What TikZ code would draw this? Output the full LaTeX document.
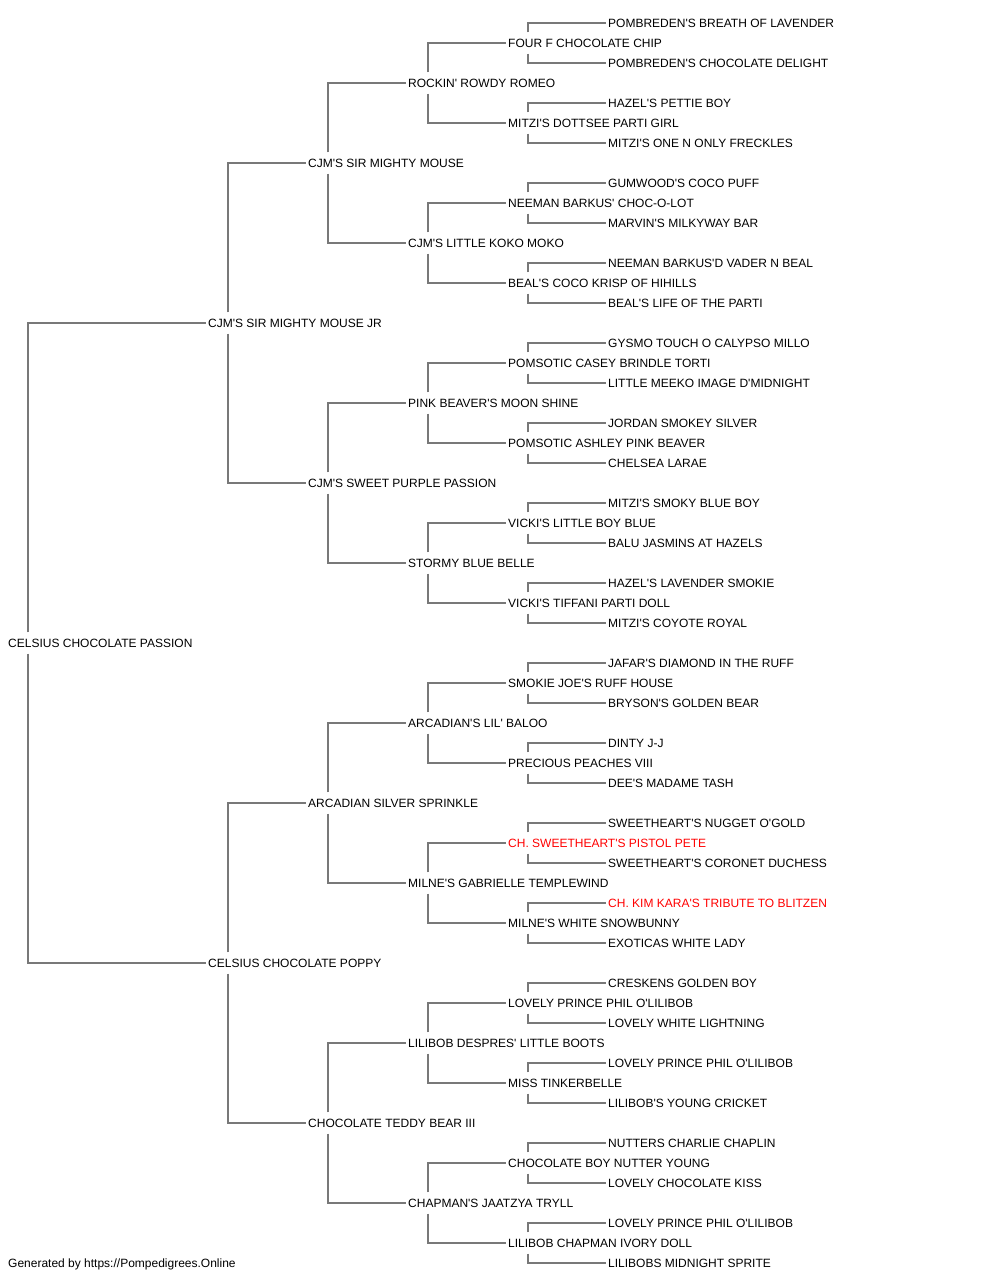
\documentclass[tikz,border=0pt]{standalone}
\usepackage{fontspec}
\newfontfamily\lab{Liberation Sans}
\definecolor{linegray}{RGB}{120,120,120}
\definecolor{chred}{RGB}{255,0,0}
\newcommand\q{\textquotesingle}
\newcommand\chn[1]{\textcolor{chred}{#1}}
\tikzset{
  lbl/.style={anchor=west, inner xsep=2pt, inner ysep=0pt, text height=9pt, text depth=0pt,
    minimum height=21pt, font=\lab\fontsize{12}{14}\selectfont, text=black},
  conn/.style={draw=linegray, line width=1.5pt}
}
\begin{document}
\begin{tikzpicture}[x=1pt,y=-1pt]
\useasboundingbox (0,0) rectangle (1000,1280);
% generation 5
\foreach \t [count=\i from 0] in {
POMBREDEN\q S BREATH OF LAVENDER,
POMBREDEN\q S CHOCOLATE DELIGHT,
HAZEL\q S PETTIE BOY,
MITZI\q S ONE N ONLY FRECKLES,
GUMWOOD\q S COCO PUFF,
MARVIN\q S MILKYWAY BAR,
NEEMAN BARKUS\q D VADER N BEAL,
BEAL\q S LIFE OF THE PARTI,
GYSMO TOUCH O CALYPSO MILLO,
LITTLE MEEKO IMAGE D\q MIDNIGHT,
JORDAN SMOKEY SILVER,
CHELSEA LARAE,
MITZI\q S SMOKY BLUE BOY,
BALU JASMINS AT HAZELS,
HAZEL\q S LAVENDER SMOKIE,
MITZI\q S COYOTE ROYAL,
JAFAR\q S DIAMOND IN THE RUFF,
BRYSON\q S GOLDEN BEAR,
DINTY J-J,
DEE\q S MADAME TASH,
SWEETHEART\q S NUGGET O\q GOLD,
SWEETHEART\q S CORONET DUCHESS,
\chn{CH. KIM KARA\q S TRIBUTE TO BLITZEN},
EXOTICAS WHITE LADY,
CRESKENS GOLDEN BOY,
LOVELY WHITE LIGHTNING,
LOVELY PRINCE PHIL O\q LILIBOB,
LILIBOB\q S YOUNG CRICKET,
NUTTERS CHARLIE CHAPLIN,
LOVELY CHOCOLATE KISS,
LOVELY PRINCE PHIL O\q LILIBOB,
LILIBOBS MIDNIGHT SPRITE}
  \node[lbl] (n5-\i) at (606,{23+40*\i}) {\t};
% generation 4
\foreach \t [count=\i from 0] in {
FOUR F CHOCOLATE CHIP,
MITZI\q S DOTTSEE PARTI GIRL,
NEEMAN BARKUS\q{} CHOC-O-LOT,
BEAL\q S COCO KRISP OF HIHILLS,
POMSOTIC CASEY BRINDLE TORTI,
POMSOTIC ASHLEY PINK BEAVER,
VICKI\q S LITTLE BOY BLUE,
VICKI\q S TIFFANI PARTI DOLL,
SMOKIE JOE\q S RUFF HOUSE,
PRECIOUS PEACHES VIII,
\chn{CH. SWEETHEART\q S PISTOL PETE},
MILNE\q S WHITE SNOWBUNNY,
LOVELY PRINCE PHIL O\q LILIBOB,
MISS TINKERBELLE,
CHOCOLATE BOY NUTTER YOUNG,
LILIBOB CHAPMAN IVORY DOLL}
  \node[lbl] (n4-\i) at (506,{43+80*\i}) {\t};
% generation 3
\foreach \t [count=\i from 0] in {
ROCKIN\q{} ROWDY ROMEO,
CJM\q S LITTLE KOKO MOKO,
PINK BEAVER\q S MOON SHINE,
STORMY BLUE BELLE,
ARCADIAN\q S LIL\q{} BALOO,
MILNE\q S GABRIELLE TEMPLEWIND,
LILIBOB DESPRES\q{} LITTLE BOOTS,
CHAPMAN\q S JAATZYA TRYLL}
  \node[lbl] (n3-\i) at (406,{83+160*\i}) {\t};
% generation 2
\foreach \t [count=\i from 0] in {
CJM\q S SIR MIGHTY MOUSE,
CJM\q S SWEET PURPLE PASSION,
ARCADIAN SILVER SPRINKLE,
CHOCOLATE TEDDY BEAR III}
  \node[lbl] (n2-\i) at (306,{163+320*\i}) {\t};
% generation 1
\node[lbl] (n1-0) at (206,323) {CJM\q S SIR MIGHTY MOUSE JR};
\node[lbl] (n1-1) at (206,963) {CELSIUS CHOCOLATE POPPY};
% generation 0
\node[lbl] (n0-0) at (6,643) {CELSIUS CHOCOLATE PASSION};
% footer
\node[lbl] (footer) at (6,1263) {Generated by https://Pompedigrees.Online};
% connectors
\foreach \g/\c/\n in {0/1/0,1/2/1,2/3/3,3/4/7,4/5/15}{
  \foreach \i in {0,...,\n}{
    \pgfmathtruncatemacro\a{2*\i}
    \pgfmathtruncatemacro\b{2*\i+1}
    \draw[conn] ([xshift=22pt]n\g-\i.north west) |- (n\c-\a.west);
    \draw[conn] ([xshift=22pt]n\g-\i.south west) |- (n\c-\b.west);
  }
}
\end{tikzpicture}
\end{document}
